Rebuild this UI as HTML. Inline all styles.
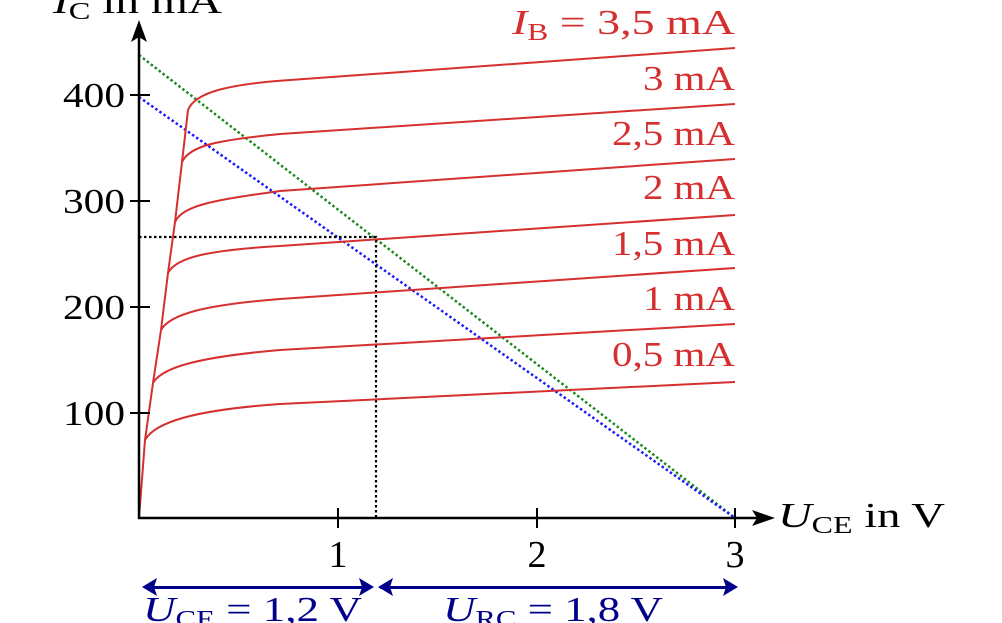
<!DOCTYPE html>
<html><head><meta charset="utf-8"><style>
html,body{margin:0;padding:0;background:#fff;width:1002px;height:623px;overflow:hidden}
text{font-family:"Liberation Serif",serif}
</style></head><body>
<svg width="1002" height="623" viewBox="0 0 1002 623" xmlns="http://www.w3.org/2000/svg">
<line x1="139" y1="55" x2="735" y2="518" stroke="#1a8a1a" stroke-width="2.5" stroke-dasharray="2.5,2.5"/>
<line x1="139" y1="97" x2="735" y2="518" stroke="#1a1aff" stroke-width="2.5" stroke-dasharray="2.5,2.5"/>
<path d="M139,237 H376 V518" fill="none" stroke="#000" stroke-width="2.2" stroke-dasharray="2.5,2.5"/>
<g fill="none" stroke="#d62f2f" stroke-width="2">
<path d="M139,518 L145,440 L153,383 L161,330 L168,273 L175,222 L182,162 L188,110"/>
<path d="M188,110 C195,92 230,84 290,80 L735,48"/>
<path d="M182,162 C190,145 220,140 280,134 L735,104"/>
<path d="M175,222 C183,205 215,200 280,191 L735,159"/>
<path d="M168,273 C176,257 210,250 280,246 L735,215"/>
<path d="M161,330 C170,314 205,305 280,299 L735,268"/>
<path d="M153,383 C162,367 200,357 280,350 L735,324"/>
<path d="M145,440 C155,422 195,410 280,404 L735,382"/>
</g>
<path d="M139,519 V36" stroke="#000" stroke-width="2.5"/>
<path d="M131,42 L139,20 L147,42 L139,37 Z" fill="#000"/>
<path d="M138,518 H758" stroke="#000" stroke-width="2.5"/>
<path d="M752,510 L775,518 L752,526 L757,518 Z" fill="#000"/>
<g stroke="#000" stroke-width="2">
<line x1="130" y1="95" x2="150" y2="95"/><line x1="130" y1="201" x2="150" y2="201"/>
<line x1="130" y1="307" x2="150" y2="307"/><line x1="130" y1="413" x2="150" y2="413"/>
<line x1="338" y1="508" x2="338" y2="528"/><line x1="537" y1="508" x2="537" y2="528"/><line x1="735" y1="508" x2="735" y2="528"/>
</g>
<g font-size="35" fill="#000">
<text x="63" y="107" textLength="62" lengthAdjust="spacingAndGlyphs">400</text>
<text x="63" y="213" textLength="62" lengthAdjust="spacingAndGlyphs">300</text>
<text x="63" y="319" textLength="62" lengthAdjust="spacingAndGlyphs">200</text>
<text x="63" y="425" textLength="62" lengthAdjust="spacingAndGlyphs">100</text>
<text x="338" y="567" text-anchor="middle" font-size="38">1</text>
<text x="537" y="567" text-anchor="middle" font-size="38">2</text>
<text x="735" y="567" text-anchor="middle" font-size="38">3</text>
<text x="53" y="13" textLength="169" lengthAdjust="spacingAndGlyphs"><tspan font-style="italic">I</tspan><tspan font-size="24" dy="6">C</tspan><tspan dy="-6"> in mA</tspan></text>
<text x="778" y="527" textLength="167" lengthAdjust="spacingAndGlyphs"><tspan font-style="italic">U</tspan><tspan font-size="24" dy="6">CE</tspan><tspan dy="-6"> in V</tspan></text>
</g>
<g font-size="35" fill="#d62f2f">
<text x="512" y="34" textLength="223" lengthAdjust="spacingAndGlyphs"><tspan font-style="italic">I</tspan><tspan font-size="24" dy="6">B</tspan><tspan dy="-6"> = 3,5 mA</tspan></text>
<text x="643" y="90" textLength="92" lengthAdjust="spacingAndGlyphs">3 mA</text>
<text x="612" y="145" textLength="123" lengthAdjust="spacingAndGlyphs">2,5 mA</text>
<text x="643" y="199" textLength="92" lengthAdjust="spacingAndGlyphs">2 mA</text>
<text x="612" y="255" textLength="123" lengthAdjust="spacingAndGlyphs">1,5 mA</text>
<text x="643" y="310" textLength="92" lengthAdjust="spacingAndGlyphs">1 mA</text>
<text x="612" y="366" textLength="123" lengthAdjust="spacingAndGlyphs">0,5 mA</text>
</g>
<g fill="#00008b" stroke="none">
<rect x="145" y="586" width="226" height="3"/>
<rect x="380" y="586" width="352" height="3"/>
<path d="M142,587 L157,578 L154,587 L157,596 Z"/>
<path d="M374,587 L359,578 L362,587 L359,596 Z"/>
<path d="M378,587 L393,578 L390,587 L393,596 Z"/>
<path d="M738,587 L723,578 L726,587 L723,596 Z"/>
</g>
<g font-size="35" fill="#00008b">
<text x="143" y="621" textLength="219" lengthAdjust="spacingAndGlyphs"><tspan font-style="italic">U</tspan><tspan font-size="24" dy="6">CE</tspan><tspan dy="-6"> = 1,2 V</tspan></text>
<text x="443" y="621" textLength="220" lengthAdjust="spacingAndGlyphs"><tspan font-style="italic">U</tspan><tspan font-size="24" dy="6">RC</tspan><tspan dy="-6"> = 1,8 V</tspan></text>
</g>
</svg>
</body></html>
